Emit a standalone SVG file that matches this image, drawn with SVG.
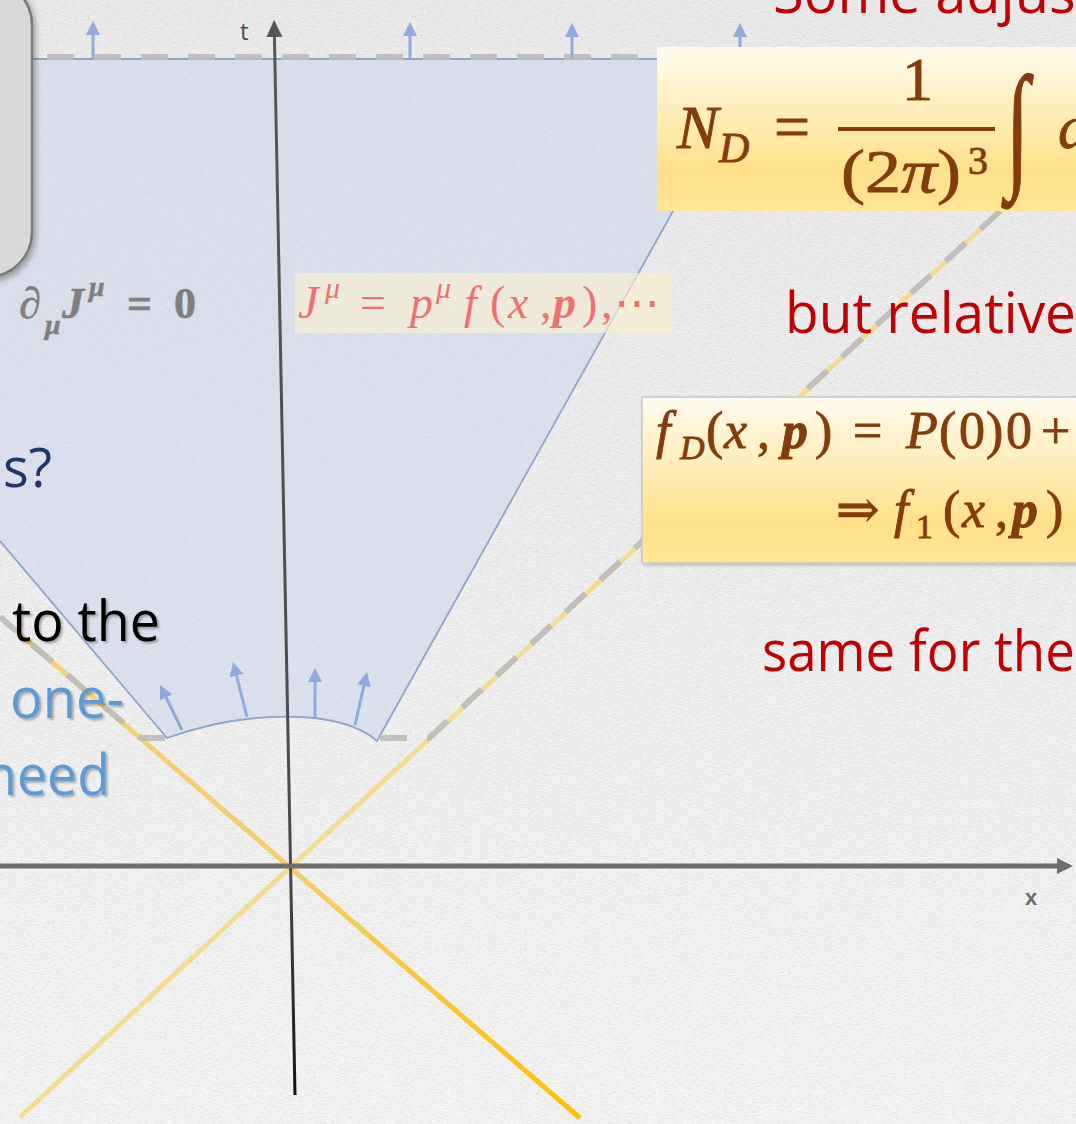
<svg xmlns="http://www.w3.org/2000/svg" width="1076" height="1124" viewBox="0 0 1076 1124">
<style>
  .sans { font-family: "Open Sans", "Noto Sans", sans-serif; }
  .math { font-family: "Liberation Serif", "DejaVu Serif", serif; }
  .red { fill: #C00000; }
  .brown { fill: #843C0C; stroke: #843C0C; stroke-width: 0.9; }
  .blueArrow { stroke: #8FAADC; stroke-width: 3; fill: none; marker-end: url(#blueHead); }
  .dashGray { stroke: #BBBBBB; stroke-width: 6; stroke-dasharray: 27 20; fill: none; opacity: 0.9; }
</style>
<defs>
  <linearGradient id="bg" x1="0" y1="0" x2="0" y2="1">
    <stop offset="0" stop-color="#ececec"/>
    <stop offset="1" stop-color="#f6f6f6"/>
  </linearGradient>
  <filter id="noise" x="0" y="0" width="100%" height="100%">
    <feTurbulence type="fractalNoise" baseFrequency="0.25 0.9" numOctaves="3" seed="7"/>
    <feColorMatrix type="matrix" values="0 0 0 0 0.55  0 0 0 0 0.55  0 0 0 0 0.55  0.7 0 0 0 -0.24"/>
  </filter>
  <linearGradient id="tAxis" gradientUnits="userSpaceOnUse" x1="0" y1="20" x2="0" y2="1095">
    <stop offset="0" stop-color="#575757"/>
    <stop offset="0.8" stop-color="#4a4a4a"/>
    <stop offset="1" stop-color="#111111"/>
  </linearGradient>
  <linearGradient id="lineB" gradientUnits="userSpaceOnUse" x1="0" y1="617" x2="0" y2="1118">
    <stop offset="0" stop-color="#F3D378"/>
    <stop offset="0.5" stop-color="#F2CF6A"/>
    <stop offset="1" stop-color="#FFC000"/>
  </linearGradient>
  <linearGradient id="boxGrad" x1="0" y1="0" x2="0" y2="1">
    <stop offset="0" stop-color="#FFFBEF"/>
    <stop offset="0.55" stop-color="#FFE9A6"/>
    <stop offset="0.75" stop-color="#FFE08A"/>
    <stop offset="1" stop-color="#FFE596"/>
  </linearGradient>
  <filter id="shadow" x="-20%" y="-20%" width="140%" height="140%">
    <feDropShadow dx="2" dy="3" stdDeviation="3" flood-color="#000" flood-opacity="0.35"/>
  </filter>
  <filter id="boxShadow" x="-5%" y="-10%" width="110%" height="125%">
    <feDropShadow dx="1" dy="2" stdDeviation="1.5" flood-color="#000" flood-opacity="0.18"/>
  </filter>
  <filter id="txtShadow" x="-10%" y="-20%" width="120%" height="140%">
    <feDropShadow dx="2" dy="2" stdDeviation="1.2" flood-color="#000" flood-opacity="0.3"/>
  </filter>
  <marker id="blueHead" markerUnits="userSpaceOnUse" markerWidth="20" markerHeight="20" refX="4" refY="7" orient="auto">
    <path d="M0,0 L14,7 L0,14 z" fill="#8FAADC"/>
  </marker>
  <marker id="axisHead" markerUnits="userSpaceOnUse" markerWidth="22" markerHeight="20" refX="2" refY="8" orient="auto">
    <path d="M0,0 L17,8 L0,16 z" fill="#555555"/>
  </marker>
  <marker id="xHead" markerUnits="userSpaceOnUse" markerWidth="22" markerHeight="20" refX="2" refY="8" orient="auto">
    <path d="M0,0 L16,8 L0,16 z" fill="#6e6e6e"/>
  </marker>
</defs>

<!-- background -->
<rect x="0" y="0" width="1076" height="1124" fill="url(#bg)"/>
<rect x="0" y="0" width="1076" height="1124" filter="url(#noise)"/>

<!-- shaded future region -->
<g id="region">
  <path d="M0,59 L758,59 L377,741 C340,708 245,710 167,738 L0,541 Z" fill="#c5d2ea" fill-opacity="0.5"/>
  <path d="M0,59 L758,59 L377,741 C340,708 245,710 167,738 L0,541" fill="none" stroke="#8EA5CC" stroke-width="1.8"/>
</g>

<g id="connectors">
  <!-- light cone -->
  <line x1="20" y1="1117" x2="1076" y2="141" stroke="#F5DB88" stroke-width="5" opacity="0.9"/>
  <line x1="0" y1="617" x2="580" y2="1118" stroke="url(#lineB)" stroke-width="5"/>
  <!-- gray dashed surfaces -->
  <path class="dashGray" d="M0,57 L700,57"/>
  <path class="dashGray" d="M380,738 L429,738 L1076,141"/>
  <path class="dashGray" d="M165,738 L141,738 L0,617"/>
  <!-- axes -->
  <line x1="295" y1="1095" x2="274.4" y2="35" stroke="url(#tAxis)" stroke-width="3" marker-end="url(#axisHead)"/>
  <line x1="0" y1="866" x2="1059" y2="866" stroke="#6e6e6e" stroke-width="5" marker-end="url(#xHead)"/>
  <!-- arrows on the final surface -->
  <line class="blueArrow" x1="93" y1="58" x2="93" y2="31"/>
  <line class="blueArrow" x1="410" y1="58" x2="410" y2="32"/>
  <line class="blueArrow" x1="572" y1="58" x2="572" y2="33"/>
  <line class="blueArrow" x1="740" y1="58" x2="740" y2="33"/>
  <!-- arrows on the initial hypersurface -->
  <line class="blueArrow" x1="182" y1="730" x2="164.4" y2="694"/>
  <line class="blueArrow" x1="247" y1="717" x2="235.5" y2="671.7"/>
  <line class="blueArrow" x1="315" y1="718" x2="315" y2="678"/>
  <line class="blueArrow" x1="355" y1="725" x2="364.8" y2="681.8"/>
</g>

<!-- axis labels -->
<g id="axisLabels">
  <text x="240" y="40" class="sans" font-size="24" fill="#4d4d4d">t</text>
  <text x="1025" y="905" font-family="Liberation Sans, sans-serif" font-size="22" font-weight="bold" fill="#6a6a6a">x</text>
</g>

<!-- conservation law -->
<g id="conservation">
  <text class="math" font-size="44" font-weight="bold" fill="#7F7F7F" stroke="#7F7F7F" stroke-width="0.6" y="318"><tspan x="19" font-style="italic">∂</tspan><tspan x="45" y="334" font-size="28" font-style="italic">μ</tspan><tspan x="62" y="318" font-style="italic">J</tspan><tspan x="89" y="296" font-size="28" font-style="italic">μ</tspan><tspan x="127" y="318">=</tspan><tspan x="174" y="318">0</tspan></text>
</g>

<!-- current -->
<g id="current">
  <rect x="295" y="273" width="377" height="60" fill="#FBEFD0" fill-opacity="0.65"/>
  <text class="math" font-size="46" fill="#F07070" y="318"><tspan x="298" font-style="italic">J</tspan><tspan x="325" y="298" font-size="30" font-style="italic">μ</tspan><tspan x="360" y="318">=</tspan><tspan x="410" font-style="italic">p</tspan><tspan x="436" y="298" font-size="30" font-style="italic">μ</tspan><tspan x="464" y="318" font-style="italic">f</tspan><tspan x="490">(</tspan><tspan x="508" font-style="italic">x</tspan><tspan x="540">,</tspan><tspan x="553" font-style="italic" font-weight="bold">p</tspan><tspan x="582">)</tspan><tspan x="601">,</tspan><tspan x="614">⋯</tspan></text>
</g>

<!-- left texts -->
<g id="leftTexts" class="sans">
  <text x="3" y="487" font-size="54" fill="#203864">s?</text>
  <g filter="url(#txtShadow)">
    <text x="12" y="641" font-size="56" fill="#000" textLength="148" lengthAdjust="spacingAndGlyphs">to the</text>
    <text x="10" y="718" font-size="56" fill="#5B9BD5" textLength="114" lengthAdjust="spacingAndGlyphs">one-</text>
    <text x="-16" y="795" font-size="56" fill="#5B9BD5" textLength="126" lengthAdjust="spacingAndGlyphs">need</text>
  </g>
</g>

<!-- right red texts -->
<g id="rightTexts" class="sans red">
  <text x="773" y="13" font-size="56">Some adjus</text>
  <text x="785" y="333" font-size="56" textLength="291" lengthAdjust="spacingAndGlyphs">but relative</text>
  <text x="762" y="671" font-size="56" textLength="313" lengthAdjust="spacingAndGlyphs">same for the</text>
</g>

<!-- N_D box -->
<g id="ndBox">
  <rect x="657" y="47" width="430" height="164" fill="url(#boxGrad)"/>
  <g class="math brown">
    <text x="677" y="148" font-size="62" font-style="italic">N</text>
    <text x="719" y="162" font-size="42" font-style="italic">D</text>
    <text x="774" y="148" font-size="64">=</text>
    <text x="902" y="100" font-size="62">1</text>
    <rect x="838" y="127" width="157" height="4" stroke="none"/>
    <text x="841" y="192" font-size="62" textLength="120" lengthAdjust="spacingAndGlyphs">(2<tspan font-style="italic">π</tspan>)</text>
    <text x="968" y="174" font-size="40">3</text>
    <text x="0" y="0" font-size="100" transform="translate(1006,172) scale(0.85,1.38)">∫</text>
    <text x="1058" y="148" font-size="62" font-style="italic">d</text>
  </g>
</g>

<!-- f_D box -->
<g id="fdBox">
  <rect x="642" y="397" width="450" height="166" fill="url(#boxGrad)" stroke="#C8C8C8" stroke-width="1.5" filter="url(#boxShadow)"/>
  <g class="math brown" font-size="52">
    <text y="448"><tspan x="656" font-style="italic">f</tspan><tspan x="680" y="459" font-size="34" font-style="italic">D</tspan><tspan x="706" y="448">(</tspan><tspan x="724" font-style="italic">x</tspan><tspan x="757">,</tspan><tspan x="782" font-style="italic" font-weight="bold">p</tspan><tspan x="815">)</tspan><tspan x="853">=</tspan><tspan x="906" font-style="italic">P</tspan><tspan x="939">(</tspan><tspan x="959">0</tspan><tspan x="986">)</tspan><tspan x="1006">0</tspan><tspan x="1041">+</tspan></text>
    <text y="527"><tspan x="836">⇒</tspan><tspan x="894" font-style="italic">f</tspan><tspan x="916" y="538" font-size="34">1</tspan><tspan x="943" y="527">(</tspan><tspan x="962" font-style="italic">x</tspan><tspan x="995">,</tspan><tspan x="1012" font-style="italic" font-weight="bold">p</tspan><tspan x="1046">)</tspan></text>
  </g>
</g>

<!-- left gray panel -->
<g id="leftPanel">
  <rect x="-60" y="-20" width="92" height="297" rx="45" ry="45" fill="#D9D9D9" stroke="#7A7A7A" stroke-width="2.5" filter="url(#shadow)"/>
</g>
</svg>
